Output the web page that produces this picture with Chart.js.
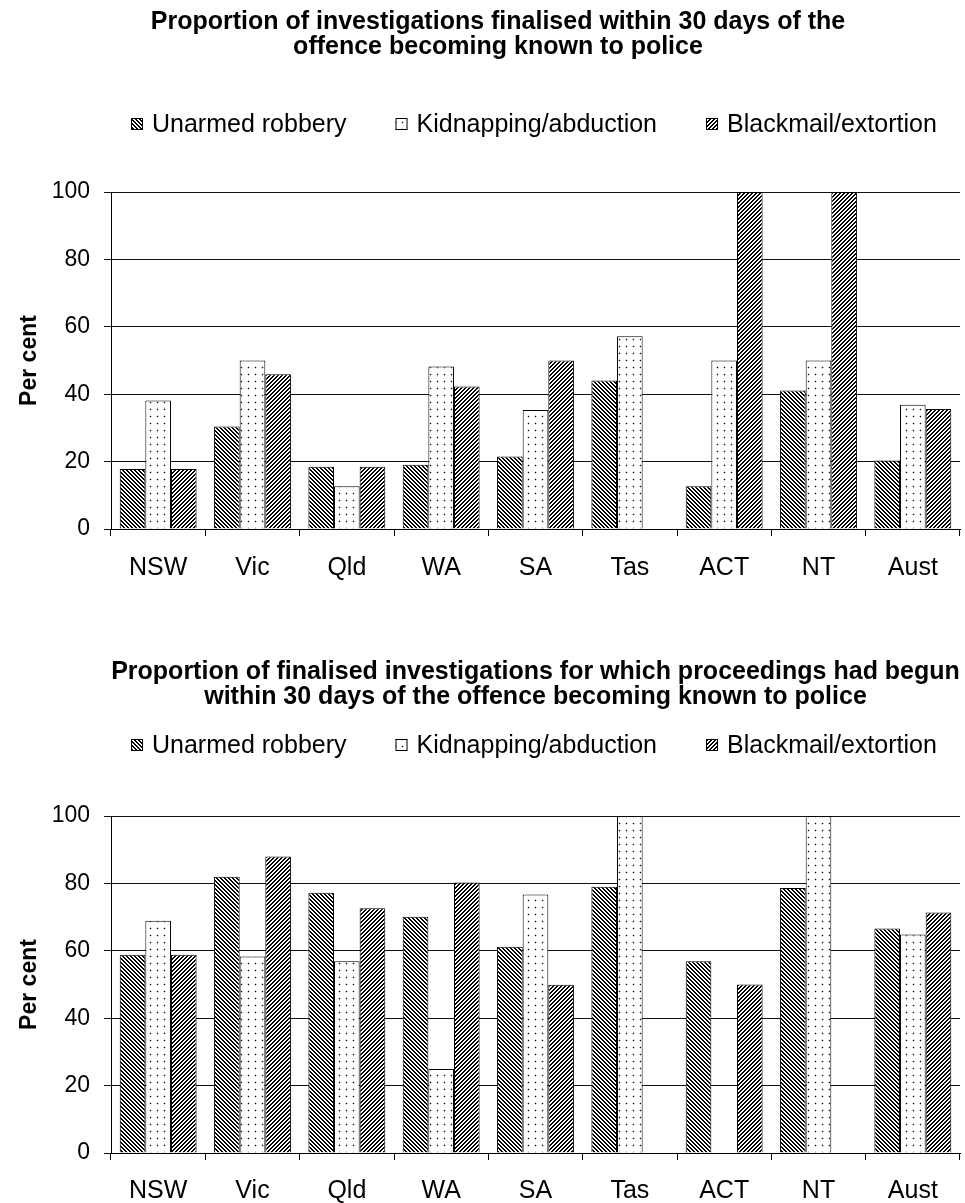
<!DOCTYPE html>
<html>
<head>
<meta charset="utf-8">
<script src="https://cdn.jsdelivr.net/npm/chart.js@4/dist/chart.umd.min.js"></script>
<style>
  body { margin: 0; background: #fff; }
  .wrap { position: absolute; left: 0; width: 965px; }
  #top { top: 0; height: 600px; }
  #bottom { top: 610px; height: 593px; }
</style>
</head>
<body>
<div class="wrap" id="top"><canvas id="chart1"></canvas></div>
<div class="wrap" id="bottom"><canvas id="chart2"></canvas></div>
<script>
// Categories and values (per cent)
const states = ['NSW', 'Vic', 'Qld', 'WA', 'SA', 'Tas', 'ACT', 'NT', 'Aust'];
const seriesNames = ['Unarmed robbery', 'Kidnapping/abduction', 'Blackmail/extortion'];
const yTicks = [0, 20, 40, 60, 80, 100];

// Top: finalised within 30 days
const finUnarmed   = [17.8, 30.4, 18.5, 19.1, 21.5, 44.1, 12.7, 41.1, 20.3];
const finKidnap    = [38.1, 50.0, 12.7, 48.2, 35.3, 57.2, 50.0, 50.0, 36.9];
const finBlackmail = [17.8, 45.9, 18.5, 42.3, 50.0, null, 100, 100, 35.6];

// Bottom: proceedings begun within 30 days
const procUnarmed   = [58.8, 82.0, 77.2, 70.1, 61.2, 79.0, 56.9, 78.6, 66.6];
const procKidnap    = [68.9, 58.3, 56.9, 24.9, 76.7, 100, null, 100, 64.8];
const procBlackmail = [58.8, 88.0, 72.6, 80.3, 49.9, null, 50.0, null, 71.4];

const FONT = "'Liberation Sans', Arial, sans-serif";

// Hatch patterns like the old Excel fills
function makePattern(kind) {
  const c = document.createElement('canvas');
  const ctx = c.getContext('2d');
  if (kind === 'dots') {
    c.width = 7; c.height = 7;
    ctx.fillStyle = '#fff';
    ctx.fillRect(0, 0, 7, 7);
    ctx.fillStyle = '#c8c8c8';
    ctx.fillRect(2, 3, 3, 1);
    ctx.fillRect(3, 2, 1, 3);
    ctx.fillStyle = '#111';
    ctx.fillRect(3, 3, 1, 1);
  } else {
    c.width = 4; c.height = 4;
    ctx.fillStyle = '#fff';
    ctx.fillRect(0, 0, 4, 4);
    ctx.fillStyle = '#000';
    for (let x = 0; x < 4; x++) {
      for (let y = 0; y < 4; y++) {
        const v = kind === 'back' ? (x - y + 8) % 4 : (x + y) % 4;
        if (v < 2) ctx.fillRect(x, y, 1, 1);
      }
    }
  }
  return ctx.createPattern(c, 'repeat');
}

const fills = [makePattern('back'), makePattern('dots'), makePattern('fwd')];

// Legend drawn by hand so the spacing matches the picture
const hatchLegend = {
  id: 'hatchLegend',
  afterDraw(chart, args, opts) {
    const ctx = chart.ctx;
    const area = chart.chartArea;
    ctx.save();
    ctx.font = '25px ' + FONT;
    ctx.textBaseline = 'middle';
    const box = 12, gapText = 9, gapItem = 49;
    const widths = seriesNames.map(n => box + gapText + ctx.measureText(n).width);
    const total = widths.reduce((a, b) => a + b, 0) + gapItem * (widths.length - 1);
    let x = Math.round((area.left + area.right) / 2 - total / 2 - 2);
    const y = opts.y;
    seriesNames.forEach((name, i) => {
      ctx.fillStyle = fills[i];
      ctx.fillRect(x, y - box / 2, box, box);
      ctx.strokeStyle = '#000';
      ctx.lineWidth = 1;
      ctx.strokeRect(x + 0.5, y - box / 2 + 0.5, box - 1, box - 1);
      ctx.fillStyle = '#000';
      ctx.fillText(name, x + box + gapText, y + 1);
      x += widths[i] + gapItem;
    });
    ctx.restore();
  }
};

function buildChart(id, title, values, opt) {
  const datasets = values.map((v, i) => ({
    label: seriesNames[i],
    data: v,
    backgroundColor: fills[i],
    borderColor: '#000',
    borderWidth: 1,
    categoryPercentage: 0.815,
    barPercentage: 1.0
  }));

  return new Chart(document.getElementById(id), {
    type: 'bar',
    data: { labels: states, datasets: datasets },
    plugins: [hatchLegend],
    options: {
      responsive: true,
      maintainAspectRatio: false,
      animation: false,
      layout: { padding: { left: opt.padLeft, right: 5, top: 0, bottom: 0 } },
      plugins: {
        legend: { display: false },
        tooltip: { enabled: false },
        hatchLegend: { y: opt.legendY },
        title: {
          display: true,
          fullSize: opt.titleFull,
          text: title,
          color: '#000',
          font: { family: FONT, size: 25, weight: 'bold', lineHeight: 1.0 },
          padding: { top: opt.titleTop, bottom: opt.titleBottom }
        }
      },
      scales: {
        x: {
          afterFit: s => { s.height = opt.xHeight; },
          grid: { offset: true, drawOnChartArea: false, color: '#000', tickLength: 7 },
          border: { color: '#000' },
          ticks: { color: '#000', font: { family: FONT, size: 25 }, padding: opt.xPad }
        },
        y: {
          min: 0,
          max: 100,
          afterFit: s => { s.width = 111 - opt.padLeft; },
          afterBuildTicks: s => { s.ticks = yTicks.map(v => ({ value: v })); },
          grid: { color: '#111', tickLength: 7 },
          border: { color: '#000' },
          ticks: { color: '#000', font: { family: FONT, size: 23 }, padding: 14 },
          title: {
            display: true,
            text: 'Per cent',
            color: '#000',
            font: { family: FONT, size: 23, weight: 'bold' },
            padding: { top: 16 - opt.padLeft, bottom: 0 }
          }
        }
      }
    }
  });
}

buildChart('chart1',
  ['Proportion of investigations finalised within 30 days of the', 'offence becoming known to police'],
  [finUnarmed, finKidnap, finBlackmail],
  { padLeft: 36, titleFull: true, titleTop: 10, titleBottom: 132, legendY: 124, xHeight: 71, xPad: 17 });

buildChart('chart2',
  ['Proportion of finalised investigations for which proceedings had begun', 'within 30 days of the offence becoming known to police'],
  [procUnarmed, procKidnap, procBlackmail],
  { padLeft: 0, titleFull: false, titleTop: 50, titleBottom: 106, legendY: 135, xHeight: 50, xPad: 16 });
</script>
</body>
</html>
